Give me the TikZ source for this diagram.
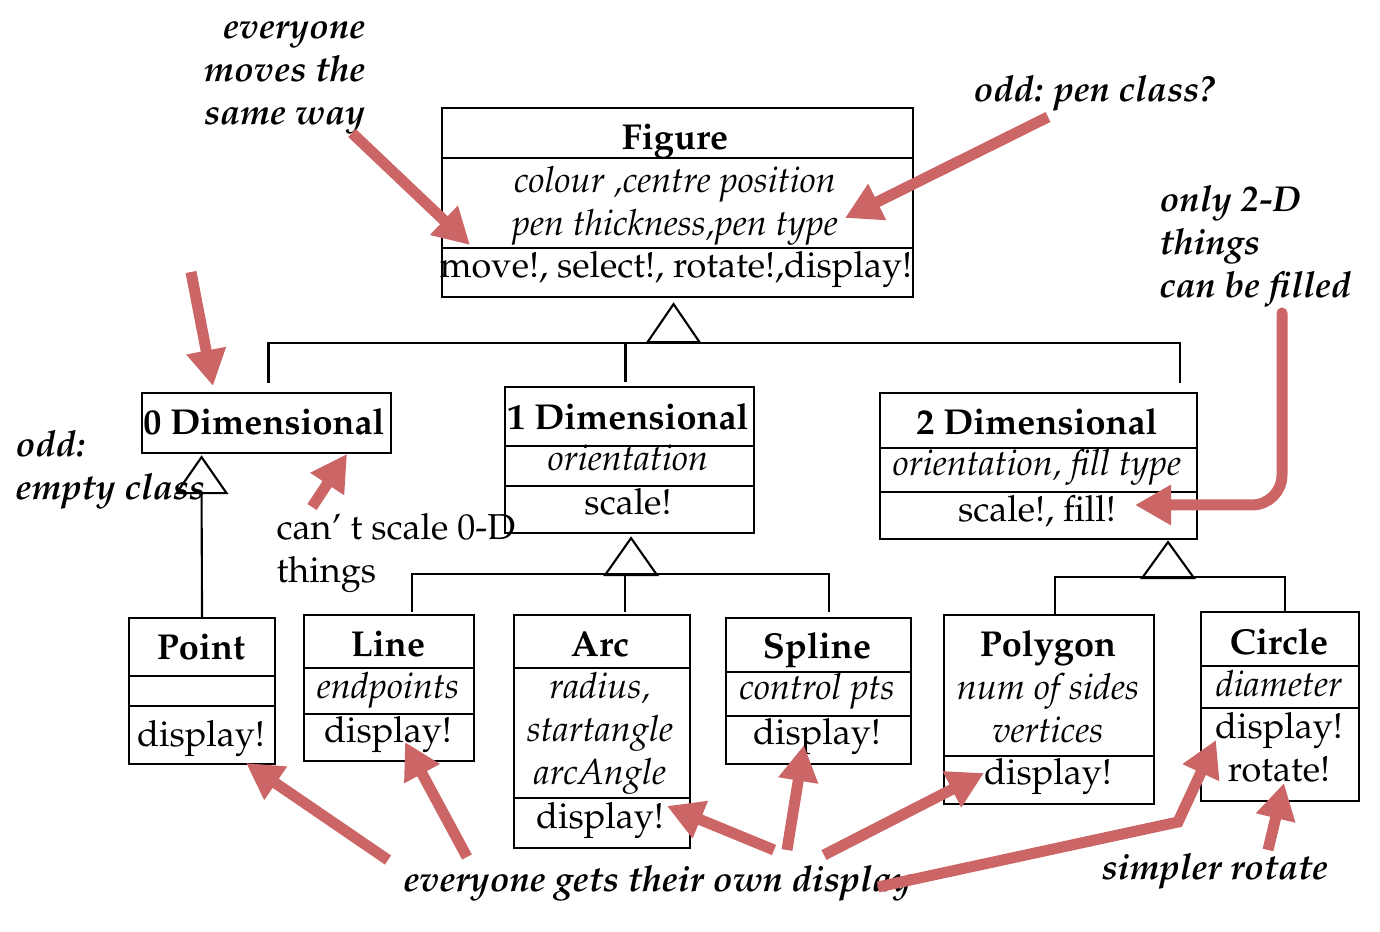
\documentclass[tikz,border=0pt]{standalone}
\usepackage[T1]{fontenc}
\usepackage{mathpazo}
\usepackage{tikz}
\usetikzlibrary{arrows.meta, positioning}
\definecolor{notered}{HTML}{CC6666}

\tikzset{
  classbox/.style={draw, line width=0.6pt, anchor=north west, inner sep=0pt},
  cname/.style={font=\bfseries, anchor=base, inner sep=0pt},
  cattr/.style={font=\itshape, anchor=base, inner sep=0pt, align=center},
  cops/.style={anchor=base, inner sep=0pt, align=center},
  note/.style={font=\bfseries\itshape, inner sep=0pt},
  tree/.style={line width=0.6pt},
  redarrow/.style={draw=notered, line width=1.1mm, -{Triangle[length=3.6mm,width=3.8mm]}},
}

\begin{document}
\fontsize{10.25}{12.3}\selectfont
\begin{tikzpicture}[x=0.1mm, y=-0.1mm]
\useasboundingbox (0,0) rectangle (1380,932);

% class boxes
\node[classbox, minimum width=47.1mm, minimum height=18.9mm] (figure) at (441,107) {};
\node[classbox, minimum width=24.9mm, minimum height=6.0mm] (zero) at (141,392) {};
\node[classbox, minimum width=24.9mm, minimum height=14.6mm] (one) at (504,386) {};
\node[classbox, minimum width=31.7mm, minimum height=14.6mm] (two) at (879,392) {};
\node[classbox, minimum width=14.6mm, minimum height=14.6mm] (point) at (128,617) {};
\node[classbox, minimum width=17.0mm, minimum height=14.6mm] (line) at (303,614) {};
\node[classbox, minimum width=17.6mm, minimum height=23.3mm] (arcbox) at (513,614) {};
\node[classbox, minimum width=18.5mm, minimum height=14.6mm] (spline) at (725,617) {};
\node[classbox, minimum width=21.0mm, minimum height=18.9mm] (polygon) at (943,614) {};
\node[classbox, minimum width=15.8mm, minimum height=18.9mm] (circlebox) at (1200,611) {};

% compartments
\draw[tree] (figure.west |- 0,158) -- (figure.east |- 0,158);
\draw[tree] (figure.west |- 0,248) -- (figure.east |- 0,248);
\draw[tree] (one.west |- 0,446) -- (one.east |- 0,446);
\draw[tree] (one.west |- 0,486) -- (one.east |- 0,486);
\draw[tree] (two.west |- 0,448) -- (two.east |- 0,448);
\draw[tree] (two.west |- 0,492) -- (two.east |- 0,492);
\draw[tree] (point.west |- 0,676) -- (point.east |- 0,676);
\draw[tree] (point.west |- 0,706) -- (point.east |- 0,706);
\draw[tree] (line.west |- 0,668) -- (line.east |- 0,668);
\draw[tree] (line.west |- 0,714) -- (line.east |- 0,714);
\draw[tree] (arcbox.west |- 0,668) -- (arcbox.east |- 0,668);
\draw[tree] (arcbox.west |- 0,798) -- (arcbox.east |- 0,798);
\draw[tree] (spline.west |- 0,672) -- (spline.east |- 0,672);
\draw[tree] (spline.west |- 0,716) -- (spline.east |- 0,716);
\draw[tree] (polygon.west |- 0,756) -- (polygon.east |- 0,756);
\draw[tree] (circlebox.west |- 0,666) -- (circlebox.east |- 0,666);
\draw[tree] (circlebox.west |- 0,708) -- (circlebox.east |- 0,708);

% class texts (multi-line nodes sit on their last baseline)
\node[cname] (figname) at (675,150) {Figure};
\node[cattr] (figattr) at (675,236) {colour ,centre position\\pen thickness,pen type};
\node[cops] (figops) at (676,278) {move!, select!, rotate!,display!};
\node[cname] (zeroname) at (264,435) {0 Dimensional};
\node[cname] (onename) at (628,430) {1 Dimensional};
\node[cattr] (oneattr) at (628,471) {orientation};
\node[cops] (oneops) at (628,515) {scale!};
\node[cname] (twoname) at (1037,435) {2 Dimensional};
\node[cattr] (twoattr) at (1037,476) {orientation, fill type};
\node[cops] (twoops) at (1037,522) {scale!, fill!};
\node[cname] (pointname) at (201,660) {Point};
\node[cops] (pointops) at (201,747) {display!};
\node[cname] (linename) at (388,657) {Line};
\node[cattr] (lineattr) at (388,699) {endpoints};
\node[cops] (lineops) at (388,743) {display!};
\node[cname] (arcname) at (600,657) {Arc};
\node[cattr] (arcattr) at (600,785) {radius,\\startangle\\arcAngle};
\node[cops] (arcops) at (600,829) {display!};
\node[cname] (splinename) at (817,659) {Spline};
\node[cattr] (splineattr) at (817,700) {control pts};
\node[cops] (splineops) at (817,745) {display!};
\node[cname] (polygonname) at (1048,657) {Polygon};
\node[cattr] (polygonattr) at (1048,743) {num of sides\\vertices};
\node[cops] (polygonops) at (1048,785) {display!};
\node[cname] (circlename) at (1279,655) {Circle};
\node[cattr] (circleattr) at (1279,697) {diameter};
\node[cops] (circleops) at (1279,782) {display!\\rotate!};

% inheritance
\coordinate (trifig) at ([shift={(-4,6)}]figure.south);
\draw[tree] (trifig) -- ++(-26,38) -- ++(52,0) -- cycle;
\draw[tree] ([shift={(2,-9)}]zero.north) |- ([shift={(-18,-49)}]two.north east) -- ([shift={(-18,-9)}]two.north east);
\draw[tree] ([shift={(-4,-4)}]one.north) -- ++(0,-39);

\coordinate (trizero) at ([shift={(-65,3)}]zero.south);
\draw[tree] (trizero) -- ++(-25,36) -- ++(50,0) -- cycle;
\draw[tree] (trizero) ++(0,36) -- (point.north);

\coordinate (trione) at ([shift={(1.5,4)}]one.south);
\draw[tree] (trione) -- ++(-26,37) -- ++(52,0) -- cycle;
\draw[tree] ([shift={(23,-2)}]line.north) |- ([shift={(10.5,-43)}]spline.north) -- ([shift={(10.5,-5)}]spline.north);
\draw[tree] ([shift={(23,-2)}]arcbox.north) -- ++(0,-38);

\coordinate (tritwo) at ([shift={(129.5,2)}]two.south);
\draw[tree] (tritwo) -- ++(-26,36) -- ++(52,0) -- cycle;
\draw[tree] ([shift={(6,0)}]polygon.north) |- ([shift={(5,-34)}]circlebox.north) -- ([shift={(5,0)}]circlebox.north);

% notes
\node[note, align=right, anchor=base east] (movenote) at (366,125) {everyone\\moves the\\same way};
\node[note, anchor=base west] (pennote) at (973,102) {odd: pen class?};
\node[note, align=left, anchor=base west] (fillnote) at (1159,298) {only 2-D\\things\\can be filled};
\node[note, align=left, anchor=base west] (emptynote) at (15,500) {odd:\\empty class};
\node[inner sep=0pt, align=left, anchor=base west] (scalenote) at (276,583) {can' t scale 0-D\\things};
\node[note, anchor=base west] (dispnote) at (403,892) {everyone gets their own display};
\node[note, anchor=base west] (rotnote) at (1101,880) {simpler rotate};

% red arrows
\draw[redarrow] (352,133) -- (470,245);
\draw[redarrow] (1048,117) -- (845,218);
\draw[redarrow] (191,272) -- (213,386);
\draw[redarrow] (312,507) -- (347,454);
\draw[redarrow, line cap=round, rounded corners=3mm] (1282,313) -- (1282,505) -- (1135,505);
\draw[redarrow] (388,860) -- (246,763);
\draw[redarrow] (467,857) -- (405,742);
\draw[redarrow] (774,850) -- (667,806);
\draw[redarrow] (787,850) -- (804,745);
\draw[redarrow] (824,855) -- (984,773);
\draw[redarrow] (878,887) -- (1178,822) -- (1216,740);
\draw[redarrow] (1268,850) -- (1284,783);
\end{tikzpicture}
\end{document}
